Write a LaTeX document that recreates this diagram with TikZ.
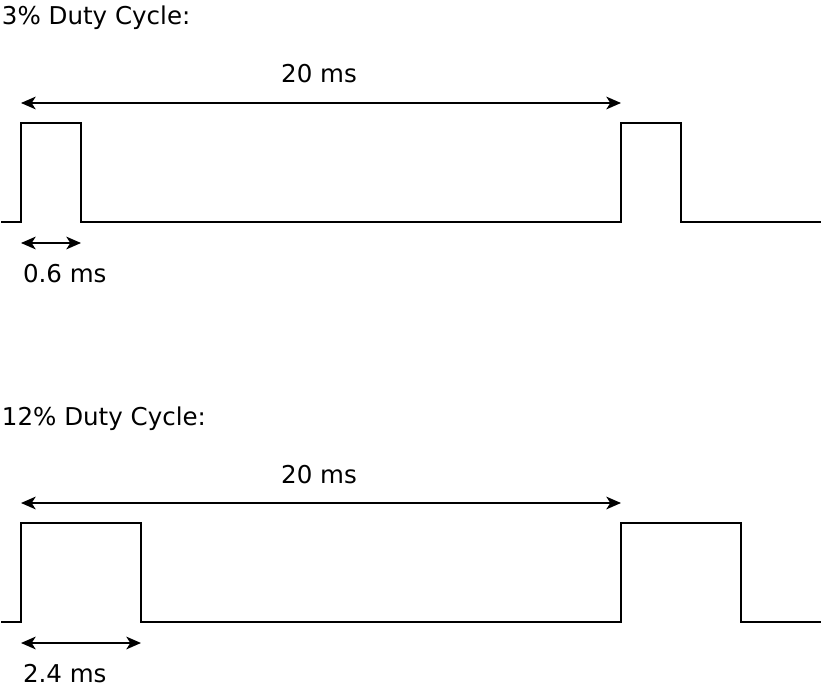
\documentclass[tikz,border=0pt]{standalone}
\usepackage{fontspec}
\setmainfont{DejaVu Sans}
\usetikzlibrary{arrows.meta}

\begin{document}
\begin{tikzpicture}[x=0.75pt, y=-0.75pt, line width=1.5pt,
    measure/.style={{Stealth[length=11pt,width=9.5pt,inset=3pt]}-{Stealth[length=11pt,width=9.5pt,inset=3pt]}},
    txt/.style={font=\fontsize{18.4}{22}\selectfont, inner sep=0pt}]
    \useasboundingbox (0,0) rectangle (824,692);
    \foreach \dy/\pct/\w/\pw [count=\n] in {0/3/0.6/60, 400/12/2.4/120} {
      \begin{scope}[shift={(0,\dy)}]
        \node[txt, anchor=base west] (title\n) at (1,25) {\pct\% Duty Cycle:};
        % period
        \coordinate (perl\n) at (21,103);
        \coordinate (perr\n) at (621,103);
        \draw[measure] (perl\n) -- (perr\n);
        \node[txt, anchor=base] (period\n) at (319,83) {20 ms};
        % waveform
        \draw (1,222) -- (21,222) -- (21,123) -- (21+\pw,123) -- (21+\pw,222)
          -- (621,222) -- (621,123) -- (621+\pw,123) -- (621+\pw,222) -- (821,222);
        % pulse width
        \coordinate (wl\n) at (21,243);
        \coordinate (wr\n) at (21+\pw,243);
        \draw[measure] (wl\n) -- (wr\n);
        \node[txt, anchor=base west] (width\n) at (22,282) {\w\ ms};
      \end{scope}
    }
  \end{tikzpicture}
\end{document}
